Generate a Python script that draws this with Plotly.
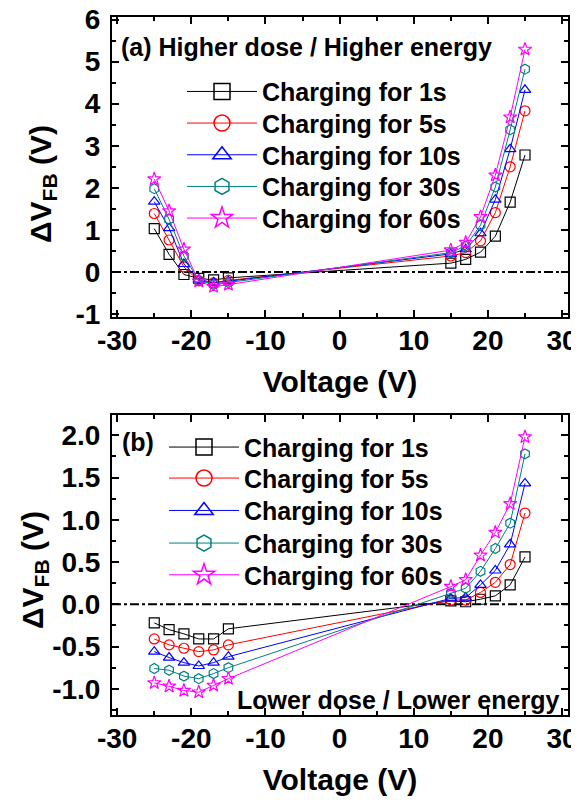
import plotly.graph_objects as go

voltage = [-25, -23, -21, -19, -17, -15, 15, 17, 19, 21, 23, 25]
series_labels = ["Charging for 1s", "Charging for 5s", "Charging for 10s",
                 "Charging for 30s", "Charging for 60s"]

# Panel (a): higher dose / higher energy
a_1s = [1.03, 0.42, -0.06, -0.15, -0.19, -0.14, 0.21, 0.30, 0.47, 0.85, 1.66, 2.78]
a_5s = [1.39, 0.76, 0.12, -0.21, -0.26, -0.20, 0.38, 0.46, 0.74, 1.41, 2.50, 3.83]
a_10s = [1.67, 1.04, 0.19, -0.18, -0.25, -0.22, 0.43, 0.54, 0.92, 1.72, 2.92, 4.33]
a_30s = [1.98, 1.25, 0.38, -0.20, -0.30, -0.25, 0.46, 0.62, 1.11, 2.02, 3.38, 4.82]
a_60s = [2.21, 1.45, 0.54, -0.22, -0.35, -0.30, 0.52, 0.70, 1.31, 2.30, 3.68, 5.29]

# Panel (b): lower dose / lower energy
b_1s = [-0.22, -0.30, -0.35, -0.41, -0.41, -0.29, 0.04, 0.03, 0.06, 0.10, 0.23, 0.56]
b_5s = [-0.41, -0.48, -0.52, -0.56, -0.54, -0.48, 0.05, 0.05, 0.14, 0.26, 0.47, 1.08]
b_10s = [-0.56, -0.63, -0.69, -0.73, -0.69, -0.62, 0.07, 0.08, 0.23, 0.40, 0.71, 1.43]
b_30s = [-0.76, -0.78, -0.85, -0.88, -0.82, -0.75, 0.13, 0.19, 0.39, 0.66, 0.96, 1.78]
b_60s = [-0.93, -0.97, -1.02, -1.04, -0.96, -0.88, 0.21, 0.29, 0.58, 0.85, 1.19, 1.98]

panel_a = [a_1s, a_5s, a_10s, a_30s, a_60s]
panel_b = [b_1s, b_5s, b_10s, b_30s, b_60s]

x_tickvals = [-30, -20, -10, 0, 10, 20, 30]
x_ticktext = ["-30", "-20", "-10", "0", "10", "20", "30"]
ya_tickvals = [-1, 0, 1, 2, 3, 4, 5, 6]
ya_ticktext = ["-1", "0", "1", "2", "3", "4", "5", "6"]
yb_tickvals = [-1.0, -0.5, 0.0, 0.5, 1.0, 1.5, 2.0]
yb_ticktext = ["-1.0", "-0.5", "0.0", "0.5", "1.0", "1.5", "2.0"]

colors = ["#000000", "#FF0000", "#0000FF", "#008080", "#FF00FF"]
symbols = ["square-open", "circle-open", "triangle-up-open", "hexagon-open", "star-open"]

FONT = "Liberation Sans, Arial, Helvetica, sans-serif"

# page body has an 8px default margin; work in screen pixels and convert
OFF = 8
W, H = 579 - OFF, 800 - OFF
PLOT_TOP, PLOT_BOT = 17.0, 715.0     # screen px
PL, PR = 112.0, 568.0                # screen px
PH = PLOT_BOT - PLOT_TOP
PW = PR - PL


def px_x(px):
    return (px - PL) / PW


def px_y(py):
    return (PLOT_BOT - py) / PH


# legend rows (screen pixel centres) for each panel
leg_a_rows = [91.7, 123.3, 155.0, 186.7, 218.3]
leg_b_rows = [447.3, 478.3, 510.7, 543.3, 575.0]

fig = go.Figure()
legend_layouts = {}
leg_idx = 0
for panel, (xa, ya), rows, leg_left in zip(
        [panel_a, panel_b], [("x", "y"), ("x2", "y2")], [leg_a_rows, leg_b_rows], [182, 164]):
    for vals, col, sym in zip(panel, colors, symbols):
        fig.add_trace(go.Scatter(
            x=voltage, y=vals, xaxis=xa, yaxis=ya, mode="lines+markers",
            line=dict(color=col, width=1),
            marker=dict(symbol=sym, size=10, color=col, line=dict(color=col, width=1.2)),
            showlegend=False, hoverinfo="skip"))
    for lab, col, sym, row in zip(series_labels, colors, symbols, rows):
        leg_idx += 1
        name = "legend" if leg_idx == 1 else f"legend{leg_idx}"
        fig.add_trace(go.Scatter(
            x=[None], y=[None], xaxis=xa, yaxis=ya, mode="lines+markers", name=lab,
            line=dict(color=col, width=1),
            marker=dict(symbol=sym, size=19, color=col, line=dict(color=col, width=1.5)),
            legend=name, showlegend=True))
        legend_layouts[name] = dict(
            x=px_x(leg_left), y=px_y(row), xanchor="left", yanchor="middle",
            bgcolor="rgba(0,0,0,0)", borderwidth=0, itemwidth=70,
            font=dict(size=25, family=FONT, color="black", weight="bold"),
            itemclick=False, itemdoubleclick=False)

minor_style = dict(ticks="inside", ticklen=4, tickwidth=2, tickcolor="black")
axis_common = dict(
    showline=True, linewidth=2, linecolor="black", mirror="allticks",
    ticks="inside", ticklen=7, tickwidth=2, tickcolor="black",
    showgrid=False, zeroline=False, automargin=False, tickmode="array",
    ticklabeloverflow="allow",
    tickfont=dict(size=28, family=FONT, color="black", weight="bold"),
)
title_font = dict(size=30, family=FONT, color="black", weight="bold")

xcommon = dict(axis_common, range=[-30.7, 30.8], tickvals=x_tickvals, ticktext=x_ticktext,
               ticklabelstandoff=-3,
               minor=dict(minor_style, dtick=5, tick0=0, tickmode="linear"),
               title=dict(text="Voltage (V)", font=title_font, standoff=16))

ytitle = "ΔV<sub>FB</sub> (V)"

fig.update_layout(
    width=W, height=H,
    margin=dict(l=int(PL - OFF), r=int(579 - PR), t=int(PLOT_TOP - OFF), b=int(800 - PLOT_BOT),
                autoexpand=False),
    paper_bgcolor="white", plot_bgcolor="white",
    font=dict(family=FONT, color="black", weight="bold"),
    xaxis=dict(xcommon, anchor="y"),
    yaxis=dict(axis_common, domain=[px_y(317), 1.0], anchor="x", range=[-1.07, 6.06],
               tickvals=ya_tickvals, ticktext=ya_ticktext, ticklabelstandoff=4,
               minor=dict(minor_style, dtick=0.5, tick0=0, tickmode="linear")),
    xaxis2=dict(xcommon, anchor="y2"),
    yaxis2=dict(axis_common, domain=[0.0, px_y(415)], anchor="x2", range=[-1.31, 2.24],
                tickvals=yb_tickvals, ticktext=yb_ticktext, ticklabelstandoff=4,
                minor=dict(minor_style, dtick=0.25, tick0=0, tickmode="linear")),
    shapes=[
        dict(type="line", xref="x domain", yref="y", x0=0, x1=1, y0=0, y1=0,
             line=dict(color="black", width=2, dash="dashdot"), layer="below"),
        dict(type="line", xref="x2 domain", yref="y2", x0=0, x1=1, y0=0, y1=0,
             line=dict(color="black", width=2, dash="dashdot"), layer="below"),
    ],
    annotations=[
        dict(text=ytitle, xref="paper", yref="paper", textangle=-90,
             x=px_x(43), y=px_y(184), xanchor="center", yanchor="middle",
             showarrow=False, font=title_font),
        dict(text=ytitle, xref="paper", yref="paper", textangle=-90,
             x=px_x(34), y=px_y(570), xanchor="center", yanchor="middle",
             showarrow=False, font=title_font),
        dict(text="(a) Higher dose / Higher energy", xref="paper", yref="paper",
             x=px_x(119), y=px_y(46.7), xanchor="left", yanchor="middle",
             showarrow=False, font=dict(size=25, family=FONT, color="black", weight="bold")),
        dict(text="(b)", xref="paper", yref="paper",
             x=px_x(120), y=px_y(441.7), xanchor="left", yanchor="middle",
             showarrow=False, font=dict(size=25, family=FONT, color="black", weight="bold")),
        dict(text="Lower dose / Lower energy", xref="paper", yref="paper",
             x=px_x(561), y=px_y(700), xanchor="right", yanchor="middle",
             showarrow=False, font=dict(size=25, family=FONT, color="black", weight="bold")),
    ],
)
fig.update_layout(**legend_layouts)

fig.write_html("out.html")
